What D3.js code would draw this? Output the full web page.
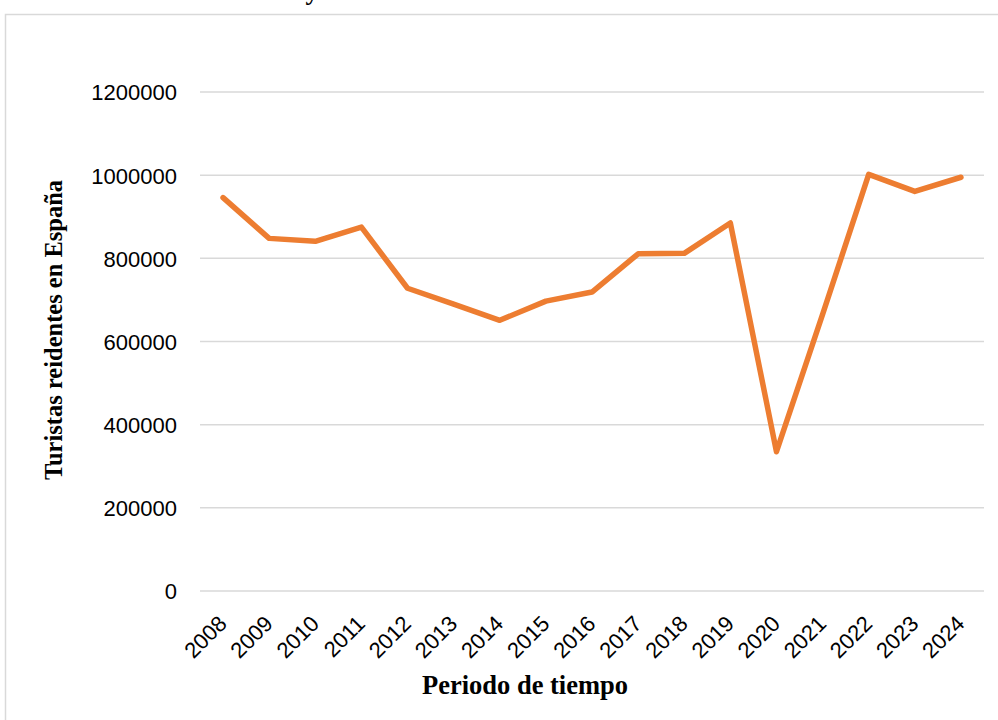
<!DOCTYPE html>
<html>
<head>
<meta charset="utf-8">
<script src="https://cdn.jsdelivr.net/npm/d3@7"></script>
<style>
  body { margin: 0; background: #fff; }
  svg { display: block; }
</style>
</head>
<body>
<div id="chart"></div>
<script>
// data
const years = ["2008","2009","2010","2011","2012","2013","2014","2015","2016",
               "2017","2018","2019","2020","2021","2022","2023","2024"];
const turistas = [946000, 848000, 841000, 875000, 728000, 690000, 651000, 697000, 719000,
                  811000, 812000, 885000, 335000, 665000, 1002000, 961000, 995000];
const yTicks = [0, 200000, 400000, 600000, 800000, 1000000, 1200000];

const W = 998, H = 720;
const plot = {left: 200, right: 984, top: 92, bottom: 591};

const svg = d3.select("#chart")
  .append("svg")
    .attr("width", W)
    .attr("height", H);

// outer chart border (runs off the page right and bottom)
svg.append("rect")
    .attr("x", 5.5)
    .attr("y", 14.5)
    .attr("width", 1100)
    .attr("height", 800)
    .attr("fill", "#fff")
    .attr("stroke", "#d9d9d9")
    .attr("stroke-width", 1.5);

// cut-off title, only the tail of the "y" shows in the original
svg.append("text")
    .attr("x", 312)
    .attr("y", 0)
    .attr("text-anchor", "middle")
    .style("font-family", "'Liberation Serif', 'Times New Roman', serif")
    .style("font-weight", "bold")
    .style("font-size", "26px")
    .text("y");

var x = d3.scaleBand()
  .domain(years)
  .range([plot.left, plot.right]);

var y = d3.scaleLinear()
  .domain([0, 1200000])
  .range([plot.bottom, plot.top]);

// gridlines
svg.append("g")
  .selectAll("line")
  .data(yTicks)
  .enter().append("line")
    .attr("x1", plot.left)
    .attr("x2", plot.right)
    .attr("y1", d => y(d))
    .attr("y2", d => y(d))
    .attr("stroke", "#d9d9d9")
    .attr("stroke-width", 1.5);

// y axis labels
var yAxis = svg.append("g")
    .attr("transform", "translate(" + (plot.left - 23) + ",0)")
    .call(d3.axisLeft(y).tickValues(yTicks).tickSize(0).tickPadding(0).tickFormat(d3.format("d")));
yAxis.select(".domain").remove();
yAxis.selectAll("text")
    .attr("dy", "0.36em")
    .style("font-family", "'Liberation Sans', Arial, sans-serif")
    .style("font-size", "22px")
    .attr("fill", "#000");

// x axis labels, rotated
var xAxis = svg.append("g")
    .attr("transform", "translate(0," + plot.bottom + ")")
    .call(d3.axisBottom(x).tickSize(0).tickPadding(0));
xAxis.select(".domain").remove();
xAxis.selectAll("text")
    .attr("text-anchor", "end")
    .attr("dy", 0)
    .attr("y", 0)
    .attr("transform", "translate(5,34) rotate(-45)")
    .style("font-family", "'Liberation Sans', Arial, sans-serif")
    .style("font-size", "22px")
    .attr("fill", "#000");

// the line
var line = d3.line()
    .x((d, i) => x(years[i]) + x.bandwidth() / 2)
    .y(d => y(d));

svg.append("path")
    .datum(turistas)
    .attr("fill", "none")
    .attr("stroke", "#ED7D31")
    .attr("stroke-width", 5.5)
    .attr("stroke-linejoin", "round")
    .attr("stroke-linecap", "round")
    .attr("d", line);

// axis titles
svg.append("text")
    .attr("x", 525)
    .attr("y", 694)
    .attr("text-anchor", "middle")
    .style("font-family", "'Liberation Serif', 'Times New Roman', serif")
    .style("font-weight", "bold")
    .style("font-size", "26.5px")
    .text("Periodo de tiempo");

svg.append("text")
    .attr("transform", "translate(62,330) rotate(-90)")
    .attr("text-anchor", "middle")
    .style("font-family", "'Liberation Serif', 'Times New Roman', serif")
    .style("font-weight", "bold")
    .style("font-size", "24.5px")
    .text("Turistas reidentes en España");
</script>
</body>
</html>
